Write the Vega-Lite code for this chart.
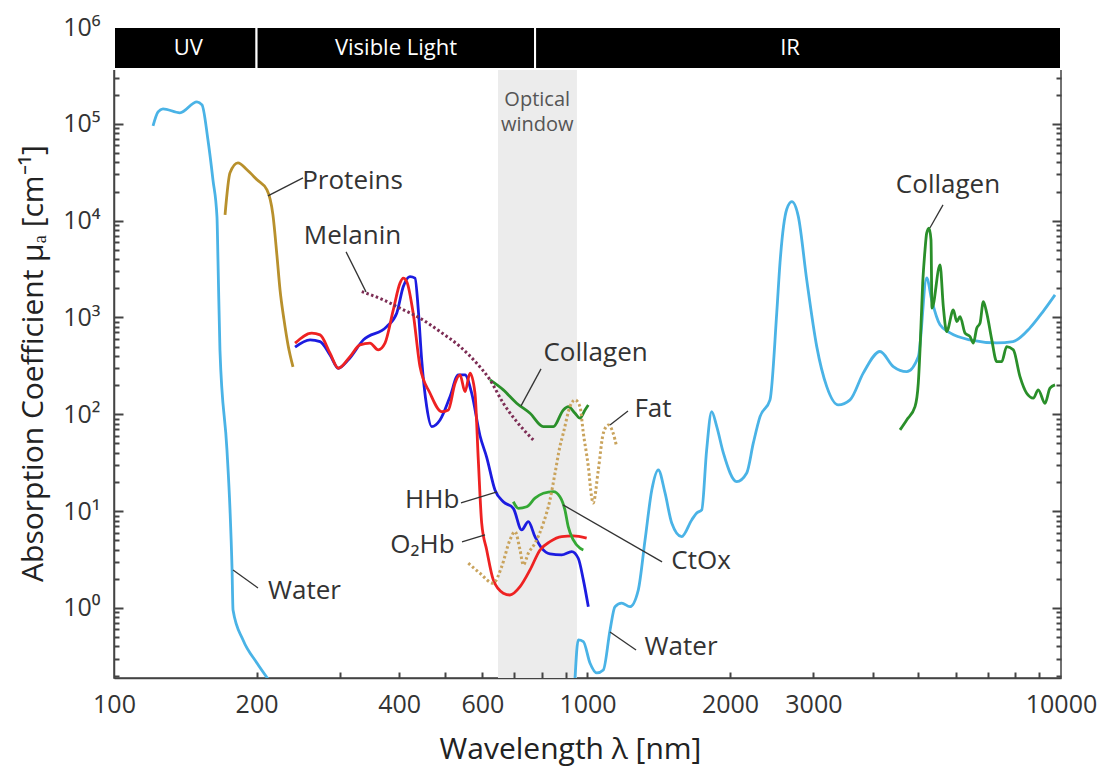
{
  "$schema": "https://vega.github.io/schema/vega-lite/v6.json",
  "width": 947,
  "height": 651,
  "autosize": "none",
  "padding": {"left": 114, "top": 27, "right": 43, "bottom": 91},
  "background": "white",
  "config": {
    "view": {"stroke": "#444", "strokeWidth": 1.5},
    "font": "Open Sans",
    "axis": {"grid": false}
  },
  "datasets": {
    "lines": [
      {"s": "WaterUV", "x": 120.9, "y": 95300}, {"s": "WaterUV", "x": 123.9, "y": 133000}, {"s": "WaterUV", "x": 126.9, "y": 143000}, {"s": "WaterUV", "x": 137.8, "y": 130000}, {"s": "WaterUV", "x": 149.7, "y": 168700}, {"s": "WaterUV", "x": 153.4, "y": 157000}, {"s": "WaterUV", "x": 157.9, "y": 68400}, {"s": "WaterUV", "x": 161.8, "y": 26400}, {"s": "WaterUV", "x": 165.0, "y": 10900}, {"s": "WaterUV", "x": 165.8, "y": 3940}, {"s": "WaterUV", "x": 167.4, "y": 463}, {"s": "WaterUV", "x": 173.2, "y": 42.9}, {"s": "WaterUV", "x": 175.8, "y": 10.3}, {"s": "WaterUV", "x": 177.5, "y": 2.65}, {"s": "WaterUV", "x": 178.4, "y": 0.953}, {"s": "WaterUV", "x": 187.3, "y": 0.467}, {"s": "WaterUV", "x": 200.4, "y": 0.27}, {"s": "WaterUV", "x": 211.4, "y": 0.185},
      {"s": "WaterIR", "x": 941, "y": 0.185}, {"s": "WaterIR", "x": 956, "y": 0.467}, {"s": "WaterIR", "x": 980, "y": 0.449}, {"s": "WaterIR", "x": 1012, "y": 0.27}, {"s": "WaterIR", "x": 1046, "y": 0.213}, {"s": "WaterIR", "x": 1080, "y": 0.229}, {"s": "WaterIR", "x": 1116, "y": 0.593}, {"s": "WaterIR", "x": 1143, "y": 1.03}, {"s": "WaterIR", "x": 1181, "y": 1.12}, {"s": "WaterIR", "x": 1229, "y": 1.03}, {"s": "WaterIR", "x": 1280, "y": 1.53}, {"s": "WaterIR", "x": 1323, "y": 5.04}, {"s": "WaterIR", "x": 1367, "y": 16.5}, {"s": "WaterIR", "x": 1411, "y": 26.6}, {"s": "WaterIR", "x": 1458, "y": 15.4}, {"s": "WaterIR", "x": 1506, "y": 7.55}, {"s": "WaterIR", "x": 1581, "y": 5.45}, {"s": "WaterIR", "x": 1660, "y": 8.11}, {"s": "WaterIR", "x": 1701, "y": 9.58}, {"s": "WaterIR", "x": 1743, "y": 10.3}, {"s": "WaterIR", "x": 1785, "y": 42.9}, {"s": "WaterIR", "x": 1829, "y": 106.6}, {"s": "WaterIR", "x": 1875, "y": 74.6}, {"s": "WaterIR", "x": 1936, "y": 39.9}, {"s": "WaterIR", "x": 2066, "y": 20.2}, {"s": "WaterIR", "x": 2169, "y": 24.8}, {"s": "WaterIR", "x": 2240, "y": 50.6}, {"s": "WaterIR", "x": 2314, "y": 94.7}, {"s": "WaterIR", "x": 2429, "y": 141}, {"s": "WaterIR", "x": 2510, "y": 1115}, {"s": "WaterIR", "x": 2550, "y": 3664}, {"s": "WaterIR", "x": 2635, "y": 13100}, {"s": "WaterIR", "x": 2701, "y": 15700}, {"s": "WaterIR", "x": 2788, "y": 11000}, {"s": "WaterIR", "x": 2904, "y": 2445}, {"s": "WaterIR", "x": 3049, "y": 500}, {"s": "WaterIR", "x": 3201, "y": 193}, {"s": "WaterIR", "x": 3386, "y": 125}, {"s": "WaterIR", "x": 3585, "y": 141}, {"s": "WaterIR", "x": 3825, "y": 268}, {"s": "WaterIR", "x": 4147, "y": 445}, {"s": "WaterIR", "x": 4424, "y": 311}, {"s": "WaterIR", "x": 4722, "y": 276}, {"s": "WaterIR", "x": 4996, "y": 394}, {"s": "WaterIR", "x": 5204, "y": 2566}, {"s": "WaterIR", "x": 5332, "y": 1521}, {"s": "WaterIR", "x": 5553, "y": 839}, {"s": "WaterIR", "x": 5831, "y": 693}, {"s": "WaterIR", "x": 6424, "y": 587}, {"s": "WaterIR", "x": 7317, "y": 547}, {"s": "WaterIR", "x": 7917, "y": 564}, {"s": "WaterIR", "x": 8600, "y": 781}, {"s": "WaterIR", "x": 9162, "y": 1151}, {"s": "WaterIR", "x": 9713, "y": 1712},
      {"s": "Proteins", "x": 171.6, "y": 11480}, {"s": "Proteins", "x": 175.8, "y": 31200}, {"s": "Proteins", "x": 182.7, "y": 39500}, {"s": "Proteins", "x": 190.9, "y": 33500}, {"s": "Proteins", "x": 200.5, "y": 26400}, {"s": "Proteins", "x": 210.4, "y": 20800}, {"s": "Proteins", "x": 216.6, "y": 11480}, {"s": "Proteins", "x": 220.9, "y": 4330}, {"s": "Proteins", "x": 224.2, "y": 1928}, {"s": "Proteins", "x": 228.6, "y": 944}, {"s": "Proteins", "x": 233.1, "y": 521}, {"s": "Proteins", "x": 238.8, "y": 309},
      {"s": "HHb", "x": 241.2, "y": 493}, {"s": "HHb", "x": 259.4, "y": 587}, {"s": "HHb", "x": 272.4, "y": 564}, {"s": "HHb", "x": 285.9, "y": 411}, {"s": "HHb", "x": 297.7, "y": 299}, {"s": "HHb", "x": 312.5, "y": 365}, {"s": "HHb", "x": 336.2, "y": 587}, {"s": "HHb", "x": 376.6, "y": 805}, {"s": "HHb", "x": 395.4, "y": 1107}, {"s": "HHb", "x": 408.3, "y": 2085}, {"s": "HHb", "x": 421.8, "y": 2646}, {"s": "HHb", "x": 432.2, "y": 2547}, {"s": "HHb", "x": 439.2, "y": 1198}, {"s": "HHb", "x": 446.5, "y": 365}, {"s": "HHb", "x": 457.5, "y": 120}, {"s": "HHb", "x": 468.8, "y": 74.6}, {"s": "HHb", "x": 488.1, "y": 87.5}, {"s": "HHb", "x": 512.4, "y": 152}, {"s": "HHb", "x": 533.5, "y": 255}, {"s": "HHb", "x": 551.2, "y": 255}, {"s": "HHb", "x": 569.4, "y": 165}, {"s": "HHb", "x": 592.9, "y": 60}, {"s": "HHb", "x": 612.5, "y": 36}, {"s": "HHb", "x": 637.7, "y": 16.56}, {"s": "HHb", "x": 664.0, "y": 12.5}, {"s": "HHb", "x": 697.1, "y": 10.7}, {"s": "HHb", "x": 726.1, "y": 6.4}, {"s": "HHb", "x": 749.9, "y": 7.79}, {"s": "HHb", "x": 774.6, "y": 5.45}, {"s": "HHb", "x": 800.3, "y": 4.14}, {"s": "HHb", "x": 833.2, "y": 3.61}, {"s": "HHb", "x": 882, "y": 3.53}, {"s": "HHb", "x": 926, "y": 3.82}, {"s": "HHb", "x": 956, "y": 3.26}, {"s": "HHb", "x": 980, "y": 1.95}, {"s": "HHb", "x": 1004, "y": 1.03},
      {"s": "O2Hb", "x": 241.2, "y": 543}, {"s": "O2Hb", "x": 261.6, "y": 688}, {"s": "O2Hb", "x": 272.4, "y": 661}, {"s": "O2Hb", "x": 285.9, "y": 428}, {"s": "O2Hb", "x": 297.7, "y": 299}, {"s": "O2Hb", "x": 315.1, "y": 394}, {"s": "O2Hb", "x": 330.7, "y": 521}, {"s": "O2Hb", "x": 347.2, "y": 543}, {"s": "O2Hb", "x": 361.5, "y": 463}, {"s": "O2Hb", "x": 373.5, "y": 543}, {"s": "O2Hb", "x": 388.9, "y": 1198}, {"s": "O2Hb", "x": 401.8, "y": 2261}, {"s": "O2Hb", "x": 408.3, "y": 2547}, {"s": "O2Hb", "x": 415.2, "y": 2350}, {"s": "O2Hb", "x": 428.4, "y": 1107}, {"s": "O2Hb", "x": 442.8, "y": 311}, {"s": "O2Hb", "x": 465.0, "y": 165}, {"s": "O2Hb", "x": 492.1, "y": 106.6}, {"s": "O2Hb", "x": 508.3, "y": 111}, {"s": "O2Hb", "x": 525.1, "y": 209.6}, {"s": "O2Hb", "x": 538, "y": 255}, {"s": "O2Hb", "x": 551.2, "y": 171.6}, {"s": "O2Hb", "x": 564.8, "y": 265.9}, {"s": "O2Hb", "x": 578.6, "y": 165}, {"s": "O2Hb", "x": 588.0, "y": 33.8}, {"s": "O2Hb", "x": 597.8, "y": 7.5}, {"s": "O2Hb", "x": 612.5, "y": 3.97}, {"s": "O2Hb", "x": 632.4, "y": 1.95}, {"s": "O2Hb", "x": 664.0, "y": 1.42}, {"s": "O2Hb", "x": 685.9, "y": 1.36}, {"s": "O2Hb", "x": 720.3, "y": 1.66}, {"s": "O2Hb", "x": 756.1, "y": 2.47}, {"s": "O2Hb", "x": 793.9, "y": 3.97}, {"s": "O2Hb", "x": 833.2, "y": 4.84}, {"s": "O2Hb", "x": 882, "y": 5.45}, {"s": "O2Hb", "x": 933.3, "y": 5.54}, {"s": "O2Hb", "x": 996, "y": 5.25},
      {"s": "CollagenVis", "x": 622.5, "y": 226.6}, {"s": "CollagenVis", "x": 664, "y": 178.7}, {"s": "CollagenVis", "x": 708.6, "y": 130.2}, {"s": "CollagenVis", "x": 756.1, "y": 102.6}, {"s": "CollagenVis", "x": 806.7, "y": 74.6}, {"s": "CollagenVis", "x": 847, "y": 74.6}, {"s": "CollagenVis", "x": 889, "y": 111}, {"s": "CollagenVis", "x": 911, "y": 120.1}, {"s": "CollagenVis", "x": 941, "y": 102.6}, {"s": "CollagenVis", "x": 964, "y": 91.1}, {"s": "CollagenVis", "x": 988, "y": 111}, {"s": "CollagenVis", "x": 1004, "y": 125},
      {"s": "CtOx", "x": 697.1, "y": 12.5}, {"s": "CtOx", "x": 714.4, "y": 10.7}, {"s": "CtOx", "x": 744.1, "y": 11.1}, {"s": "CtOx", "x": 774.6, "y": 13.6}, {"s": "CtOx", "x": 806.7, "y": 15.3}, {"s": "CtOx", "x": 847, "y": 15.9}, {"s": "CtOx", "x": 874.4, "y": 14.1}, {"s": "CtOx", "x": 896, "y": 10.3}, {"s": "CtOx", "x": 910.5, "y": 6.92}, {"s": "CtOx", "x": 933.3, "y": 5.04}, {"s": "CtOx", "x": 964, "y": 4.14}, {"s": "CtOx", "x": 980, "y": 3.97},
      {"s": "CollagenIR", "x": 4571, "y": 69}, {"s": "CollagenIR", "x": 4722, "y": 87.5}, {"s": "CollagenIR", "x": 4917, "y": 120}, {"s": "CollagenIR", "x": 4996, "y": 210}, {"s": "CollagenIR", "x": 5038, "y": 463}, {"s": "CollagenIR", "x": 5104, "y": 2261}, {"s": "CollagenIR", "x": 5162, "y": 4990}, {"s": "CollagenIR", "x": 5204, "y": 7430}, {"s": "CollagenIR", "x": 5263, "y": 8360}, {"s": "CollagenIR", "x": 5314, "y": 6340}, {"s": "CollagenIR", "x": 5340, "y": 1248}, {"s": "CollagenIR", "x": 5553, "y": 3494}, {"s": "CollagenIR", "x": 5642, "y": 1296}, {"s": "CollagenIR", "x": 5735, "y": 715}, {"s": "CollagenIR", "x": 5924, "y": 1198}, {"s": "CollagenIR", "x": 6024, "y": 907}, {"s": "CollagenIR", "x": 6121, "y": 1022}, {"s": "CollagenIR", "x": 6272, "y": 688}, {"s": "CollagenIR", "x": 6424, "y": 636}, {"s": "CollagenIR", "x": 6529, "y": 543}, {"s": "CollagenIR", "x": 6638, "y": 775}, {"s": "CollagenIR", "x": 6745, "y": 873}, {"s": "CollagenIR", "x": 6855, "y": 1459}, {"s": "CollagenIR", "x": 6970, "y": 1107}, {"s": "CollagenIR", "x": 7142, "y": 587}, {"s": "CollagenIR", "x": 7317, "y": 350}, {"s": "CollagenIR", "x": 7496, "y": 350}, {"s": "CollagenIR", "x": 7678, "y": 500}, {"s": "CollagenIR", "x": 7929, "y": 463}, {"s": "CollagenIR", "x": 8192, "y": 245}, {"s": "CollagenIR", "x": 8463, "y": 165}, {"s": "CollagenIR", "x": 8740, "y": 147}, {"s": "CollagenIR", "x": 8954, "y": 179}, {"s": "CollagenIR", "x": 9250, "y": 130}, {"s": "CollagenIR", "x": 9478, "y": 186}, {"s": "CollagenIR", "x": 9713, "y": 201},
      {"s": "Melanin", "x": 333.6, "y": 1852}, {"s": "Melanin", "x": 370.5, "y": 1520}, {"s": "Melanin", "x": 401.8, "y": 1248}, {"s": "Melanin", "x": 442.8, "y": 984}, {"s": "Melanin", "x": 488.1, "y": 715}, {"s": "Melanin", "x": 538, "y": 500}, {"s": "Melanin", "x": 583.4, "y": 337}, {"s": "Melanin", "x": 622.5, "y": 226.6}, {"s": "Melanin", "x": 664, "y": 130.2}, {"s": "Melanin", "x": 708.6, "y": 84.1}, {"s": "Melanin", "x": 768.1, "y": 54.4},
      {"s": "Fat", "x": 560.1, "y": 2.9}, {"s": "Fat", "x": 592.9, "y": 2.28}, {"s": "Fat", "x": 632.4, "y": 1.8}, {"s": "Fat", "x": 658.8, "y": 2.67}, {"s": "Fat", "x": 685.9, "y": 5.04}, {"s": "Fat", "x": 703, "y": 6.14}, {"s": "Fat", "x": 720.3, "y": 3.97}, {"s": "Fat", "x": 732, "y": 2.78}, {"s": "Fat", "x": 749.9, "y": 3.67}, {"s": "Fat", "x": 774.6, "y": 4.66}, {"s": "Fat", "x": 806.7, "y": 7.5}, {"s": "Fat", "x": 833.2, "y": 13.05}, {"s": "Fat", "x": 853.8, "y": 24.6}, {"s": "Fat", "x": 874.4, "y": 46.4}, {"s": "Fat", "x": 889, "y": 63.8}, {"s": "Fat", "x": 918.3, "y": 120}, {"s": "Fat", "x": 941, "y": 141}, {"s": "Fat", "x": 964, "y": 120}, {"s": "Fat", "x": 980, "y": 63.8}, {"s": "Fat", "x": 1004, "y": 28.8}, {"s": "Fat", "x": 1020, "y": 14.1}, {"s": "Fat", "x": 1028, "y": 12.1}, {"s": "Fat", "x": 1054, "y": 26.6}, {"s": "Fat", "x": 1080, "y": 63.8}, {"s": "Fat", "x": 1107, "y": 77.7}, {"s": "Fat", "x": 1133, "y": 63.8}, {"s": "Fat", "x": 1152, "y": 46.4}
    ],
    "bands": [
      {"t": "UV", "x": 100, "x2": 200},
      {"t": "Visible Light", "x": 200, "x2": 775},
      {"t": "IR", "x": 775, "x2": 10000}
    ],
    "bandlabels": [
      {"t": "UV", "x": 143.5},
      {"t": "Visible Light", "x": 394},
      {"t": "IR", "x": 2678}
    ],
    "window": [{"t": "Optical window", "x": 647, "x2": 950}],
    "windowlabels": [
      {"t": "Optical", "x": 783, "y": 177000},
      {"t": "window", "x": 783, "y": 97700}
    ],
    "labels": [
      {"t": "Proteins", "x": 319, "y": 25780},
      {"t": "Melanin", "x": 319, "y": 6966},
      {"t": "Collagen", "x": 1040, "y": 431},
      {"t": "Fat", "x": 1375, "y": 113.7},
      {"t": "HHb", "x": 470, "y": 13.05},
      {"t": "O₂Hb", "x": 448, "y": 4.48},
      {"t": "CtOx", "x": 1737, "y": 3.06},
      {"t": "Water", "x": 252.5, "y": 1.498},
      {"t": "Water", "x": 1576, "y": 0.395},
      {"t": "Collagen", "x": 5772, "y": 23440}
    ],
    "leaders": [
      {"x": 211.4, "y": 18030, "x2": 250.7, "y2": 27670},
      {"x": 309.1, "y": 4761, "x2": 340.6, "y2": 1839},
      {"x": 797.7, "y": 294.4, "x2": 723.8, "y2": 122.1},
      {"x": 1217.6, "y": 108.4, "x2": 1115.6, "y2": 77.7},
      {"x": 540.5, "y": 12.15, "x2": 644.2, "y2": 15.8},
      {"x": 543.2, "y": 4.81, "x2": 607.5, "y2": 5.68},
      {"x": 887.9, "y": 11.59, "x2": 1437, "y2": 2.99},
      {"x": 178.4, "y": 2.47, "x2": 201.4, "y2": 1.61},
      {"x": 1115.6, "y": 0.565, "x2": 1266.3, "y2": 0.368},
      {"x": 5634, "y": 14560, "x2": 5289, "y2": 8440}
    ]
  },
  "layer": [
    {
      "data": {"name": "window"},
      "mark": {"type": "rect", "fill": "#ececec"},
      "encoding": {
        "x": {"field": "x", "type": "quantitative", "scale": {"type": "log", "domain": [100, 10000], "nice": false}, "axis": null},
        "x2": {"field": "x2"},
        "y": {"datum": 0.189, "type": "quantitative", "scale": {"type": "log", "domain": [0.189, 1000000], "nice": false}, "axis": null},
        "y2": {"datum": 368000}
      }
    },
    {
      "data": {"name": "lines"},
      "transform": [{"filter": "datum.s !== 'Melanin' && datum.s !== 'Fat'"}],
      "mark": {"type": "line", "interpolate": "monotone", "strokeWidth": 2.8, "clip": true},
      "encoding": {
        "x": {
          "field": "x",
          "type": "quantitative",
          "scale": {"type": "log", "domain": [100, 10000], "nice": false},
          "axis": {
            "orient": "bottom",
            "title": "Wavelength λ [nm]",
            "values": [100, 200, 400, 600, 1000, 2000, 3000, 10000],
            "labelExpr": "datum.value + ''",
            "ticks": false,
            "tickSize": 0,
            "domainColor": "#444",
            "domainWidth": 1.5,
            "labelFontSize": 25,
            "labelColor": "#333",
            "labelPadding": 14,
            "labelFlush": false,
            "labelOverlap": false,
            "titleFontSize": 30,
            "titleFontWeight": "normal",
            "titleColor": "#222",
            "titleBaseline": "alphabetic",
            "titleX": 456,
            "titleY": 80
          }
        },
        "y": {
          "field": "y",
          "type": "quantitative",
          "scale": {"type": "log", "domain": [0.189, 1000000], "nice": false},
          "axis": {
            "orient": "left",
            "title": "Absorption Coefficient μₐ [cm⁻¹]",
            "values": [1, 10, 100, 1000, 10000, 100000, 1000000],
            "labelExpr": "'10' + ['⁰','¹','²','³','⁴','⁵','⁶'][round(log(datum.value)/LN10)]",
            "ticks": false,
            "tickSize": 0,
            "domainColor": "#444",
            "domainWidth": 1.5,
            "labelFontSize": 25,
            "labelColor": "#333",
            "labelPadding": 14,
            "labelOverlap": false,
            "labelFlush": false,
            "titleFontSize": 30,
            "titleFontWeight": "normal",
            "titleColor": "#222",
            "titleBaseline": "alphabetic",
            "titleX": -72,
            "titleY": 336
          }
        },
        "color": {
          "field": "s",
          "type": "nominal",
          "scale": {
            "domain": ["WaterUV", "WaterIR", "Proteins", "HHb", "O2Hb", "CollagenVis", "CollagenIR", "CtOx", "Melanin", "Fat"],
            "range": ["#4ab3e6", "#4ab3e6", "#b8902c", "#1c1ce0", "#ee2222", "#2a8f2a", "#2a8f2a", "#34a834", "#7d2d55", "#c9a35c"]
          },
          "legend": null
        }
      }
    },
    {
      "data": {"name": "lines"},
      "transform": [{"filter": "datum.s === 'Melanin' || datum.s === 'Fat'"}],
      "mark": {"type": "line", "interpolate": "monotone", "strokeWidth": 3, "strokeDash": [2.5, 2.5], "clip": true},
      "encoding": {
        "x": {"field": "x", "type": "quantitative", "scale": {"type": "log", "domain": [100, 10000], "nice": false}, "axis": null},
        "y": {
          "field": "y",
          "type": "quantitative",
          "scale": {"type": "log", "domain": [0.189, 1000000], "nice": false},
          "axis": {
            "orient": "right",
            "zindex": 1,
            "offset": -5,
            "title": null,
            "labels": false,
            "domain": false,
            "values": [0.2, 0.3, 0.4, 0.5, 0.6, 0.7, 0.8, 0.9, 2, 3, 4, 5, 6, 7, 8, 9, 20, 30, 40, 50, 60, 70, 80, 90, 200, 300, 400, 500, 600, 700, 800, 900, 2000, 3000, 4000, 5000, 6000, 7000, 8000, 9000, 20000, 30000, 40000, 50000, 60000, 70000, 80000, 90000, 200000, 300000],
            "tickSize": 5,
            "tickColor": "#444",
            "tickWidth": 2
          }
        },
        "color": {
          "field": "s",
          "type": "nominal",
          "scale": {
            "domain": ["WaterUV", "WaterIR", "Proteins", "HHb", "O2Hb", "CollagenVis", "CollagenIR", "CtOx", "Melanin", "Fat"],
            "range": ["#4ab3e6", "#4ab3e6", "#b8902c", "#1c1ce0", "#ee2222", "#2a8f2a", "#2a8f2a", "#34a834", "#7d2d55", "#c9a35c"]
          },
          "legend": null
        }
      }
    },
    {
      "data": {"name": "bands"},
      "mark": {"type": "rect", "fill": "black", "stroke": "white", "strokeWidth": 2},
      "encoding": {
        "x": {"field": "x", "type": "quantitative", "scale": {"type": "log", "domain": [100, 10000], "nice": false}, "axis": null},
        "x2": {"field": "x2"},
        "y": {"datum": 368000, "type": "quantitative", "axis": null},
        "y2": {"datum": 1000000}
      }
    },
    {
      "data": {"name": "bandlabels"},
      "mark": {"type": "text", "color": "white", "fontSize": 22, "align": "center", "baseline": "middle"},
      "encoding": {
        "x": {"field": "x", "type": "quantitative", "scale": {"type": "log", "domain": [100, 10000], "nice": false}, "axis": null},
        "y": {"datum": 610000, "type": "quantitative", "axis": null},
        "text": {"field": "t"}
      }
    },
    {
      "data": {"name": "windowlabels"},
      "mark": {"type": "text", "color": "#555", "fontSize": 20, "align": "center", "baseline": "middle"},
      "encoding": {
        "x": {"field": "x", "type": "quantitative", "scale": {"type": "log", "domain": [100, 10000], "nice": false}, "axis": null},
        "y": {
          "field": "y",
          "type": "quantitative",
          "axis": {
            "orient": "right",
            "zindex": 1,
            "offset": -9,
            "title": null,
            "labels": false,
            "domain": false,
            "values": [1, 10, 100, 1000, 10000, 100000],
            "tickSize": 9,
            "tickColor": "#444",
            "tickWidth": 2
          }
        },
        "text": {"field": "t"}
      }
    },
    {
      "data": {"name": "leaders"},
      "mark": {"type": "rule", "color": "#333", "strokeWidth": 1.3},
      "encoding": {
        "x": {
          "field": "x",
          "type": "quantitative",
          "scale": {"type": "log", "domain": [100, 10000], "nice": false},
          "axis": {
            "orient": "top",
            "zindex": 1,
            "offset": -651,
            "title": null,
            "labels": false,
            "domain": false,
            "values": [200, 300, 400, 500, 600, 700, 800, 900, 1000, 2000, 3000, 4000, 5000, 6000, 7000, 8000, 9000],
            "tickSize": 6,
            "tickColor": "#444",
            "tickWidth": 2
          }
        },
        "x2": {"field": "x2"},
        "y": {
          "field": "y",
          "type": "quantitative",
          "axis": {
            "orient": "right",
            "zindex": 1,
            "offset": -947,
            "title": null,
            "labels": false,
            "domain": false,
            "values": [1, 10, 100, 1000, 10000, 100000],
            "tickSize": 9,
            "tickColor": "#444",
            "tickWidth": 2
          }
        },
        "y2": {"field": "y2"}
      }
    },
    {
      "data": {"name": "labels"},
      "mark": {"type": "text", "color": "#333", "fontSize": 26, "align": "center", "baseline": "middle"},
      "encoding": {
        "x": {"field": "x", "type": "quantitative", "scale": {"type": "log", "domain": [100, 10000], "nice": false}, "axis": null},
        "y": {
          "field": "y",
          "type": "quantitative",
          "axis": {
            "orient": "right",
            "zindex": 1,
            "offset": -947,
            "title": null,
            "labels": false,
            "domain": false,
            "values": [0.2, 0.3, 0.4, 0.5, 0.6, 0.7, 0.8, 0.9, 2, 3, 4, 5, 6, 7, 8, 9, 20, 30, 40, 50, 60, 70, 80, 90, 200, 300, 400, 500, 600, 700, 800, 900, 2000, 3000, 4000, 5000, 6000, 7000, 8000, 9000, 20000, 30000, 40000, 50000, 60000, 70000, 80000, 90000, 200000, 300000],
            "tickSize": 5,
            "tickColor": "#444",
            "tickWidth": 2
          }
        },
        "text": {"field": "t"}
      }
    }
  ],
  "resolve": {"axis": {"x": "independent", "y": "independent"}}
}
